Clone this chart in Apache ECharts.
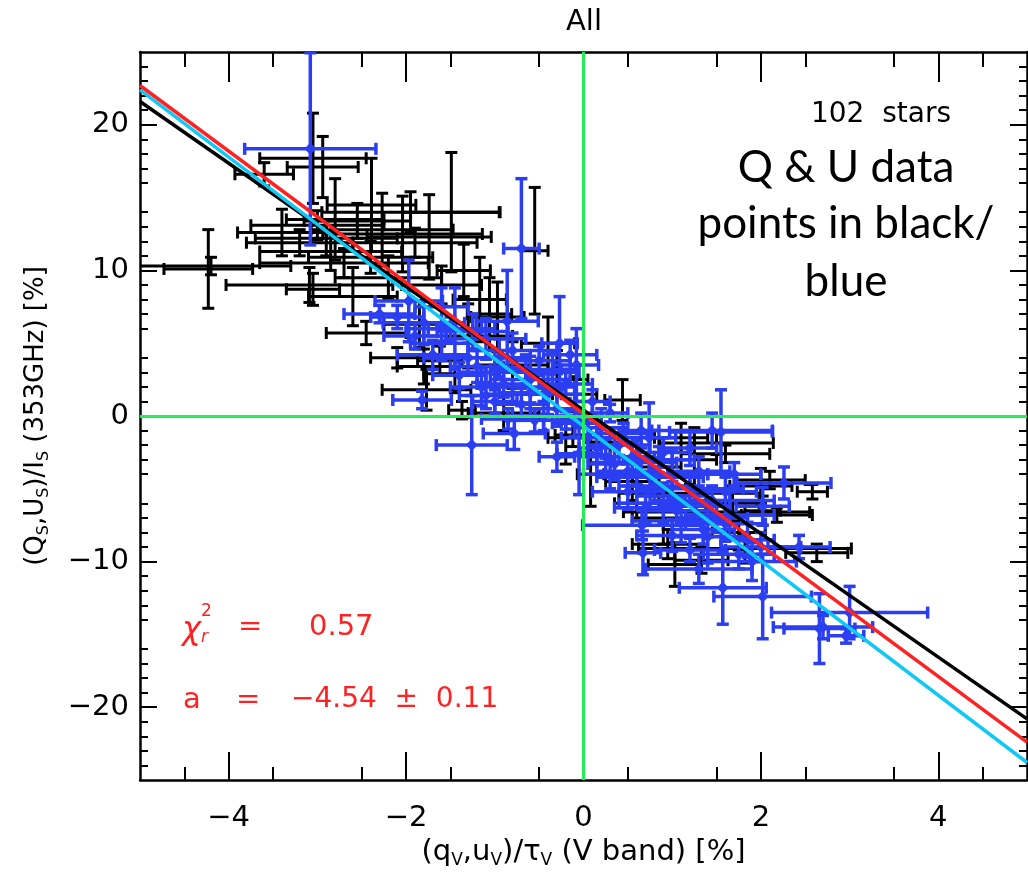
<!DOCTYPE html>
<html>
<head>
<meta charset="utf-8">
<script src="https://cdn.jsdelivr.net/npm/echarts@6/dist/echarts.min.js"></script>
<style>
  html, body { margin: 0; padding: 0; background: #fff; }
  #main { width: 1028px; height: 874px; }
</style>
</head>
<body>
<div id="main"></div>
<script>
// points: [x, y, xerr, yerr]
var blackPoints = [
    [-4.23, 10.1, 0.5, 2.7], [-4.2, 10.3, 0.9, 0.6], [-3.05, 17.7, 0.6, 3.1], [-2.94, 17.1, 0.4, 2.1],
    [-3.6, 16.6, 0.33, 0.8], [-2.39, 14.5, 0.5, 3.2], [-2.8, 13.5, 0.55, 2.8], [-2.27, 12.8, 0.8, 2.5],
    [-2.04, 12.5, 0.9, 2.6], [-1.74, 12.3, 0.7, 2.9], [-3.0, 13.1, 0.75, 1.0], [-3.4, 12.6, 0.5, 1.6],
    [-2.9, 12.2, 0.8, 1.2], [-2.85, 11.3, 0.8, 1.3], [-2.7, 10.5, 0.95, 1.0], [-1.49, 14.0, 0.55, 4.1],
    [-1.95, 14.0, 1.0, 1.4], [-1.9, 11.9, 0.7, 1.0], [-1.17, 8.0, 0.3, 2.9], [-1.06, 7.0, 0.25, 2.5],
    [-0.97, 6.8, 0.3, 2.4], [-0.55, 11.35, 0.15, 4.35], [-3.09, 9.0, 0.94, 1.2], [-3.05, 8.7, 0.3, 1.1],
    [-2.6, 8.2, 0.5, 2.0], [-2.45, 5.7, 0.45, 0.8], [-2.1, 4.0, 0.3, 0.7], [-1.77, 1.8, 0.5, 1.4],
    [-1.8, 3.4, 0.3, 1.2], [-1.62, 3.8, 0.25, 1.0], [-2.2, 9.5, 0.6, 1.5], [-1.6, 9.0, 0.45, 1.3],
    [-1.35, 10.0, 0.3, 1.8], [-1.3, 5.5, 0.5, 2.2], [-0.8, 3.5, 0.4, 1.6], [-0.4, 5.0, 0.3, 1.8],
    [-0.3, 2.5, 0.35, 2.0], [-0.1, 1.5, 0.25, 1.2], [-1.37, 0.4, 0.15, 0.6], [-0.9, 0.2, 0.4, 1.2],
    [-0.2, -1.5, 0.2, 1.8], [0.08, -4.0, 0.15, 2.2], [0.44, 1.1, 0.2, 1.4], [0.3, -1.8, 0.3, 1.0],
    [-0.12, -1.3, 0.2, 0.8], [0.55, -4.5, 0.3, 1.3], [0.85, -3.5, 0.25, 2.0], [1.2, -5.3, 0.8, 0.6],
    [1.5, -1.85, 0.64, 0.8], [1.6, -2.6, 0.5, 0.6], [2.1, -4.4, 0.4, 0.6], [2.0, -4.8, 0.35, 1.2],
    [2.58, -5.2, 0.17, 0.5], [2.18, -6.8, 0.4, 0.5], [1.5, -6.6, 1.05, 0.8], [1.82, -9.1, 1.2, 1.0],
    [2.63, -9.4, 0.35, 0.6], [1.03, -10.2, 0.3, 1.5], [1.33, -9.9, 0.3, 0.9], [1.68, -6.0, 0.3, 1.2],
    [2.02, -6.5, 0.2, 1.0], [0.9, -7.0, 0.35, 1.8], [1.25, -3.0, 0.25, 2.2], [1.75, -8.0, 0.3, 1.2],
    [0.6, -6.0, 0.25, 1.2], [1.1, -1.5, 0.3, 1.0], [-2.55, 13.4, 0.6, 1.2], [-3.2, 11.9, 0.6, 0.9],
    [-2.4, 10.9, 0.7, 1.1], [-1.85, 6.3, 0.4, 1.6], [-1.45, 2.9, 0.35, 1.3], [0.95, -8.8, 0.4, 1.0]
];
var bluePoints = [
    [-3.08, 18.35, 0.74, 6.6], [-1.97, 7.9, 0.38, 2.8], [-1.8, 6.4, 0.46, 1.5], [-1.45, 6.0, 0.3, 2.8],
    [-0.86, 6.5, 0.35, 3.5], [-0.7, 11.5, 0.2, 4.8], [-0.27, 5.0, 0.2, 3.2], [-0.08, 3.5, 0.25, 2.5],
    [-1.82, 1.1, 0.33, 0.6], [-1.6, 5.0, 0.35, 1.2], [-1.3, 4.0, 0.5, 1.0], [-1.1, 5.3, 0.45, 1.4],
    [-1.0, 3.0, 0.4, 1.5], [-0.8, 4.5, 0.5, 1.2], [-0.6, 2.5, 0.45, 1.6], [-0.5, 3.8, 0.35, 1.0],
    [-0.4, 1.5, 0.4, 1.4], [-0.2, 2.2, 0.3, 1.0], [-0.7, 0.8, 0.3, 1.1], [-1.15, 2.0, 0.35, 1.3],
    [-1.4, 2.8, 0.3, 0.9], [-1.0, 1.0, 0.25, 0.8], [-0.3, 0.5, 0.3, 1.2], [-0.1, -0.5, 0.25, 0.9],
    [-1.26, -2.0, 0.4, 3.4], [-0.78, -1.2, 0.35, 1.1], [-0.3, -2.8, 0.2, 1.0], [-0.05, -2.6, 0.25, 2.8],
    [-0.55, -0.3, 0.3, 0.8], [-2.1, 6.8, 0.3, 0.8], [-1.6, 7.5, 0.3, 1.3], [0.2, -0.8, 0.3, 1.3],
    [0.4, -2.0, 0.35, 1.2], [0.6, -3.2, 0.45, 1.5], [0.74, -1.5, 0.3, 2.4], [0.65, -1.0, 0.2, 1.2],
    [1.0, -4.0, 0.4, 1.6], [1.2, -5.0, 0.6, 1.1], [1.55, -1.1, 0.58, 2.9], [1.45, -1.0, 0.68, 1.2],
    [0.9, -6.0, 0.5, 1.4], [0.5, -5.2, 0.4, 1.2], [0.3, -4.0, 0.3, 1.0], [1.1, -7.2, 0.55, 1.5],
    [1.4, -8.3, 0.4, 1.8], [1.6, -7.4, 0.45, 1.2], [1.2, -9.2, 0.4, 0.8], [0.66, -7.5, 0.67, 1.0],
    [0.67, -9.4, 0.2, 1.5], [1.57, -11.8, 0.49, 2.5], [2.02, -12.4, 0.55, 2.9], [3.0, -13.5, 0.88, 1.8],
    [2.7, -14.5, 0.56, 0.8], [2.66, -14.6, 0.4, 2.4], [2.96, -15.1, 0.2, 0.5], [2.26, -4.6, 0.53, 1.1],
    [2.02, -6.2, 0.3, 1.3], [2.43, -9.0, 0.35, 0.8], [1.85, -8.5, 0.3, 1.2], [1.9, -10.0, 0.5, 1.3],
    [0.45, -1.2, 0.3, 0.7], [0.15, -2.2, 0.2, 1.0], [1.2, -2.2, 0.3, 1.2], [1.45, -5.8, 0.7, 1.0],
    [0.75, -4.2, 0.6, 1.3], [2.0, -9.0, 0.45, 1.0], [1.65, -6.8, 0.5, 1.6], [1.3, -10.5, 0.6, 1.0],
    [-1.5, 6.0, 0.5, 0.8], [-2.3, 7.0, 0.4, 0.6], [-0.2, -0.3, 0.25, 0.6], [0.55, -2.8, 0.25, 0.9],
    [0.1, 1.0, 0.2, 0.8], [0.3, 0.2, 0.2, 0.6], [0.9, -2.5, 0.3, 1.0], [1.7, -4.0, 0.3, 0.8],
    [-0.9, 2.2, 0.3, 0.9], [-0.45, 0.0, 0.35, 1.0], [0.35, -3.3, 0.3, 1.1], [1.05, -6.5, 0.35, 1.0],
    [-1.2, 3.4, 0.3, 1.1], [1.35, -7.8, 0.35, 1.0], [-1.7, 4.2, 0.4, 1.0], [-1.25, 5.8, 0.4, 1.2],
    [-0.95, 4.0, 0.35, 1.3], [-0.65, 3.2, 0.4, 1.0], [-0.35, 3.0, 0.3, 1.4], [-0.15, 4.2, 0.3, 1.0],
    [-0.6, 1.6, 0.35, 1.1], [-1.1, 1.4, 0.3, 0.9], [-0.85, -0.2, 0.3, 0.7], [0.05, -1.5, 0.3, 1.0],
    [0.25, -2.8, 0.3, 1.2], [0.5, -3.8, 0.35, 1.0], [0.8, -4.8, 0.4, 1.2], [1.0, -5.5, 0.4, 1.0],
    [0.7, -6.3, 0.35, 1.1], [1.25, -6.2, 0.4, 1.3], [1.5, -7.0, 0.35, 1.0], [1.0, -8.2, 0.4, 1.1],
    [1.75, -9.5, 0.4, 1.0], [0.85, -3.0, 0.4, 0.9], [1.3, -3.8, 0.35, 1.0], [1.6, -5.2, 0.35, 1.0],
    [-1.9, 5.5, 0.35, 0.9], [-0.45, 2.0, 0.35, 1.1]
];
// fit lines, y at the two ends of the x range
var fitX = [-5, 5];
var blackFitY = [21.6, -20.8];
var cyanFitY = [22.4, -23.8];
var redFitY = [22.7, -22.4];
var xMajorTicks = [-4, -2, 0, 2, 4];
var yMajorTicks = [-20, -10, 0, 10, 20];

var FONT = 'DejaVu Sans';
var BLUE = '#2b3ef2';
var RED = '#ff2222';
var GREEN = '#22ee55';

function fitData(ys) {
    return fitX.map(function (x, i) { return [x, ys[i]]; });
}

function errorBars(color, lw, cap, marker) {
    return function (params, api) {
        var x = api.value(0), y = api.value(1), xe = api.value(2), ye = api.value(3);
        var c = api.coord([x, y]);
        var l = api.coord([x - xe, y]), r = api.coord([x + xe, y]);
        var t = api.coord([x, y + ye]), b = api.coord([x, y - ye]);
        var h = cap / 2;
        var st = {stroke: color, lineWidth: lw};
        var kids = [
            {type: 'line', shape: {x1: l[0], y1: c[1], x2: r[0], y2: c[1]}, style: st},
            {type: 'line', shape: {x1: c[0], y1: t[1], x2: c[0], y2: b[1]}, style: st},
            {type: 'line', shape: {x1: l[0], y1: c[1] - h, x2: l[0], y2: c[1] + h}, style: st},
            {type: 'line', shape: {x1: r[0], y1: c[1] - h, x2: r[0], y2: c[1] + h}, style: st},
            {type: 'line', shape: {x1: c[0] - h, y1: t[1], x2: c[0] + h, y2: t[1]}, style: st},
            {type: 'line', shape: {x1: c[0] - h, y1: b[1], x2: c[0] + h, y2: b[1]}, style: st}
        ];
        if (marker) {
            kids.push({type: 'polygon', shape: {points: [[c[0], c[1] - marker], [c[0] + marker, c[1]],
                [c[0], c[1] + marker], [c[0] - marker, c[1]]]}, style: {fill: color}});
        }
        return {type: 'group', children: kids};
    };
}

function signed(v) {
    return v < 0 ? '\u2212' + (-v) : String(v);
}

// interval 2 from -5 only drives the minor ticks (every 0.5); the major ticks and labels are custom values
function xAxisOpt(pos, showLabel) {
    return {
        type: 'value', position: pos, min: -5, max: 5, interval: 2,
        axisLine: {show: true, onZero: false, lineStyle: {color: '#000', width: 2.5}},
        axisTick: {show: true, inside: true, length: pos === 'top' ? 30 : 28, customValues: xMajorTicks,
            lineStyle: {color: '#000', width: 2}},
        minorTick: {show: true, splitNumber: 4, length: pos === 'top' ? 15 : 13, lineStyle: {color: '#000', width: 2}},
        axisLabel: {show: showLabel, customValues: xMajorTicks, color: '#000', fontFamily: FONT, fontSize: 29, margin: 24,
            formatter: signed},
        splitLine: {show: false}
    };
}
function yAxisOpt(pos, showLabel) {
    return {
        type: 'value', position: pos, min: -25, max: 25, interval: 10,
        axisLine: {show: true, onZero: false, lineStyle: {color: '#000', width: 2.5}},
        axisTick: {show: true, inside: true, length: 17, customValues: yMajorTicks, lineStyle: {color: '#000', width: 2}},
        minorTick: {show: true, splitNumber: 10, length: 8, lineStyle: {color: '#000', width: 2}},
        axisLabel: {show: showLabel, customValues: yMajorTicks, color: '#000', fontFamily: FONT, fontSize: 29, margin: 11,
            formatter: signed},
        splitLine: {show: false}
    };
}

var xb = xAxisOpt('bottom', true);
xb.name = '(q{s|V},u{s|V})/\u03c4{s|V} (V band) [%]';
xb.nameLocation = 'middle';
xb.nameGap = 56;
xb.nameTextStyle = {color: '#000', fontFamily: FONT, fontSize: 29,
    rich: {s: {fontFamily: FONT, fontSize: 17, padding: [16, 0, 0, 0]}}};

var yl = yAxisOpt('left', true);
yl.name = '(Q{s|S},U{s|S})/I{s|S} (353GHz) [%]';
yl.nameLocation = 'middle';
yl.nameGap = 88;
yl.nameTextStyle = {color: '#000', fontFamily: FONT, fontSize: 26,
    rich: {s: {fontFamily: FONT, fontSize: 16, padding: [15, 0, 0, 0]}}};

var chart = echarts.init(document.getElementById('main'), null, {renderer: 'canvas'});
var option = {
    backgroundColor: '#fff',
    animation: false,
    grid: {left: 140, right: 1, top: 52, bottom: 93},
    xAxis: [xb, xAxisOpt('top', false)],
    yAxis: [yl, yAxisOpt('right', false)],
    series: [
        {
            name: 'Q,U black', type: 'custom', xAxisIndex: 0, yAxisIndex: 0, clip: true,
            renderItem: errorBars('#000', 3, 12, 2),
            encode: {x: 0, y: 1}, data: blackPoints
        },
        {
            name: 'Q,U blue', type: 'custom', xAxisIndex: 0, yAxisIndex: 0, clip: true,
            renderItem: errorBars(BLUE, 3.5, 12, 6),
            encode: {x: 0, y: 1}, data: bluePoints
        },
        {
            type: 'line', xAxisIndex: 0, yAxisIndex: 0, data: [], silent: true,
            markLine: {
                silent: true, symbol: 'none', animation: false,
                label: {show: false},
                lineStyle: {color: GREEN, width: 3, type: 'solid'},
                data: [{xAxis: 0}, {yAxis: 0}]
            }
        },
        {type: 'line', xAxisIndex: 0, yAxisIndex: 0, data: fitData(blackFitY), showSymbol: false,
            lineStyle: {color: '#000', width: 3.5}, silent: true},
        {type: 'line', xAxisIndex: 0, yAxisIndex: 0, data: fitData(cyanFitY), showSymbol: false,
            lineStyle: {color: '#10c8f4', width: 3.5}, silent: true},
        {type: 'line', xAxisIndex: 0, yAxisIndex: 0, data: fitData(redFitY), showSymbol: false,
            lineStyle: {color: RED, width: 3.5}, silent: true}
    ],
    graphic: [
        {type: 'text', x: 584, y: 22, style: {text: 'All', font: '29px "DejaVu Sans"', fill: '#000', align: 'center', verticalAlign: 'middle'}},
        {type: 'text', x: 881, y: 115, style: {text: '102  stars', font: '28px "DejaVu Sans"', fill: '#000', align: 'center', verticalAlign: 'middle'}},
        {type: 'text', x: 846, y: 168, style: {text: 'Q & U data', font: '44px Lato', fill: '#000', align: 'center', verticalAlign: 'middle'}},
        {type: 'text', x: 846, y: 224, style: {text: 'points in black/', font: '44px Lato', fill: '#000', align: 'center', verticalAlign: 'middle'}},
        {type: 'text', x: 846, y: 282, style: {text: 'blue', font: '44px Lato', fill: '#000', align: 'center', verticalAlign: 'middle'}},
        {type: 'text', x: 182, y: 631, style: {text: '\u03c7', font: 'italic 32px "DejaVu Sans"', fill: RED, verticalAlign: 'middle'}},
        {type: 'text', x: 201, y: 612, style: {text: '2', font: '17px "DejaVu Sans"', fill: RED, verticalAlign: 'middle'}},
        {type: 'text', x: 201, y: 638, style: {text: 'r', font: 'italic 17px "DejaVu Sans"', fill: RED, verticalAlign: 'middle'}},
        {type: 'text', x: 238, y: 627, style: {text: '=', font: '29px "DejaVu Sans"', fill: RED, verticalAlign: 'middle'}},
        {type: 'text', x: 309, y: 627, style: {text: '0.57', font: '29px "DejaVu Sans"', fill: RED, verticalAlign: 'middle'}},
        {type: 'text', x: 183, y: 700, style: {text: 'a', font: '29px "DejaVu Sans"', fill: RED, verticalAlign: 'middle'}},
        {type: 'text', x: 236, y: 700, style: {text: '=', font: '29px "DejaVu Sans"', fill: RED, verticalAlign: 'middle'}},
        {type: 'text', x: 291, y: 700, style: {text: '\u22124.54  \u00b1  0.11', font: '28px "DejaVu Sans"', fill: RED, verticalAlign: 'middle'}}
    ]
};
chart.setOption(option);
</script>
</body>
</html>
